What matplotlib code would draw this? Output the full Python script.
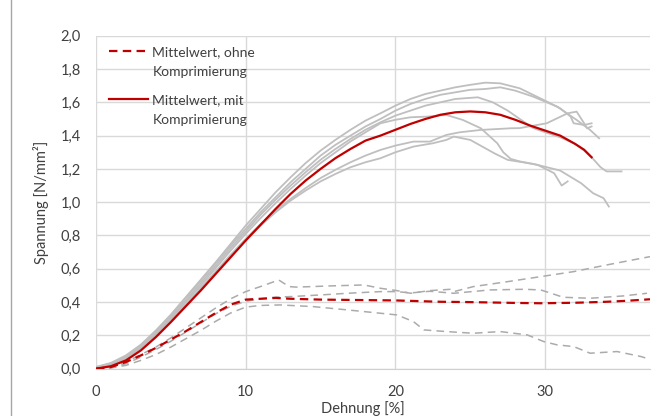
import numpy as np
import matplotlib.pyplot as plt
from matplotlib.patches import Rectangle
from matplotlib.legend_handler import HandlerLine2D

plt.rcParams['font.family'] = ['Lato', 'DejaVu Sans']

# Einzelversuche mit Komprimierung (grau, durchgezogen)
g1_x = [0, 1, 2, 3, 4, 5, 6, 7, 8, 9, 10, 11, 12, 13, 14, 15, 16, 17, 18, 19, 20, 21, 22, 23, 24, 25, 26, 27, 28.3, 29.9, 31, 31.7, 31.9, 32.6, 33.1]
g1_y = [0.01, 0.035, 0.08, 0.145, 0.23, 0.325, 0.43, 0.535, 0.64, 0.75, 0.86, 0.96, 1.06, 1.15, 1.235, 1.31, 1.375, 1.435, 1.49, 1.534, 1.58, 1.62, 1.65, 1.67, 1.69, 1.705, 1.718, 1.714, 1.684, 1.614, 1.564, 1.514, 1.474, 1.464, 1.474]
g2_x = [0, 1, 2, 3, 4, 5, 6, 7, 8, 9, 10, 11, 12, 13, 14, 15, 16, 17, 18, 19, 20, 21, 22, 23, 24, 25, 26, 27, 28, 29.2, 30.8, 32.1, 33, 33.6]
g2_y = [0.005, 0.03, 0.075, 0.14, 0.225, 0.32, 0.425, 0.53, 0.635, 0.74, 0.84, 0.94, 1.03, 1.12, 1.2, 1.28, 1.345, 1.4, 1.455, 1.5, 1.55, 1.59, 1.62, 1.645, 1.66, 1.675, 1.68, 1.69, 1.67, 1.634, 1.574, 1.494, 1.434, 1.384]
g3_x = [0, 1, 2, 3, 4, 5, 6, 7, 8, 9, 10, 11, 12, 13, 14, 15, 16, 17, 18, 19, 20, 22, 24, 25.5, 26.5, 27.5, 28.3, 29.2, 30, 31, 32, 32.6, 33.2, 33.7, 34.1, 35.1]
g3_y = [0.005, 0.025, 0.07, 0.135, 0.215, 0.31, 0.41, 0.515, 0.62, 0.725, 0.825, 0.925, 1.015, 1.1, 1.18, 1.255, 1.32, 1.38, 1.435, 1.48, 1.52, 1.58, 1.62, 1.63, 1.6, 1.55, 1.5, 1.445, 1.42, 1.39, 1.35, 1.31, 1.26, 1.21, 1.185, 1.185]
g4_x = [0, 1, 2, 3, 4, 5, 6, 7, 8, 9, 10, 11, 12, 13, 14, 15, 16, 17, 18, 19, 20, 21.2, 22.3, 23.4, 24.3, 25.7, 27.7, 28.3, 30.1, 31.5, 32.1, 32.6, 32.8, 33.1]
g4_y = [0.005, 0.025, 0.065, 0.125, 0.2, 0.29, 0.385, 0.485, 0.585, 0.685, 0.78, 0.87, 0.95, 1.02, 1.085, 1.145, 1.195, 1.24, 1.28, 1.314, 1.34, 1.364, 1.364, 1.404, 1.42, 1.434, 1.444, 1.445, 1.474, 1.534, 1.544, 1.474, 1.444, 1.455]
g5_x = [0, 1, 2, 3, 4, 5, 6, 7, 8, 9, 10, 11, 12, 13, 14, 15, 16, 17, 18, 19, 20, 21, 22.1, 23.4, 24.5, 25.7, 26.8, 27.2, 27.7, 28.3, 29.2, 29.9, 31, 32.4, 33.2, 33.9, 34.25]
g5_y = [0.01, 0.03, 0.07, 0.13, 0.21, 0.3, 0.4, 0.5, 0.605, 0.71, 0.81, 0.905, 0.995, 1.08, 1.16, 1.235, 1.3, 1.365, 1.42, 1.474, 1.495, 1.51, 1.514, 1.524, 1.494, 1.444, 1.354, 1.3, 1.26, 1.245, 1.23, 1.215, 1.19, 1.114, 1.054, 1.024, 0.974]
g6_x = [0, 1, 2, 3, 4, 5, 6, 7, 8, 9, 10, 11, 12, 13, 14, 15, 16, 17, 18, 19, 20, 21.2, 22.5, 23.4, 23.9, 25, 26.6, 27.5, 28.5, 29.5, 30.6, 31.1, 31.5]
g6_y = [0.005, 0.02, 0.06, 0.12, 0.195, 0.285, 0.38, 0.48, 0.58, 0.68, 0.775, 0.86, 0.94, 1.01, 1.07, 1.125, 1.17, 1.21, 1.24, 1.264, 1.3, 1.334, 1.354, 1.374, 1.394, 1.374, 1.294, 1.254, 1.24, 1.224, 1.174, 1.1, 1.125]

# Mittelwert mit Komprimierung
mit_x = [0, 1, 2, 3, 4, 5, 6, 7, 8, 9, 10, 11, 12, 13, 14, 15, 16, 17, 18, 19, 20, 21, 22, 23, 24, 25, 26, 27, 28, 29, 30, 31, 32, 32.6, 33.1]
mit_y = [0, 0.015, 0.05, 0.11, 0.19, 0.28, 0.375, 0.47, 0.57, 0.67, 0.77, 0.865, 0.96, 1.05, 1.13, 1.2, 1.265, 1.32, 1.37, 1.4, 1.435, 1.47, 1.5, 1.525, 1.54, 1.545, 1.54, 1.525, 1.495, 1.46, 1.43, 1.4, 1.35, 1.315, 1.27]

# Einzelversuche ohne Komprimierung (grau, gestrichelt)
d1_x = [0, 1, 2, 3, 4, 5, 6, 7, 8, 9, 10, 11.2, 12.2, 12.9, 13.4, 15.6, 17.9, 19, 20.1, 21, 22.3, 23.7, 23.9, 25.2, 27.5, 29.7, 31.9, 34.1, 37]
d1_y = [0, 0.01, 0.04, 0.085, 0.13, 0.185, 0.245, 0.305, 0.365, 0.42, 0.463, 0.5, 0.533, 0.493, 0.49, 0.497, 0.503, 0.483, 0.469, 0.453, 0.469, 0.477, 0.463, 0.493, 0.523, 0.553, 0.583, 0.623, 0.673]
d2_x = [0, 1, 2, 3, 4, 5, 6, 7, 8, 9, 10, 11, 12, 13, 15, 16.8, 19, 20.1, 21, 22.3, 23.9, 26.3, 28.6, 29.7, 30.4, 31.2, 33, 35.2, 36.8]
d2_y = [0, 0.005, 0.03, 0.07, 0.115, 0.165, 0.22, 0.275, 0.33, 0.375, 0.405, 0.42, 0.43, 0.433, 0.443, 0.453, 0.463, 0.463, 0.455, 0.465, 0.453, 0.473, 0.477, 0.473, 0.453, 0.429, 0.423, 0.437, 0.453]
d3_x = [0, 1, 2, 3, 4, 5, 6, 7, 8, 9, 10, 11, 12.3, 14.5, 16.8, 19, 20.1, 21.2, 21.9, 23.4, 25.2, 27, 28.8, 29.9, 30.8, 31.9, 33, 34.8, 36.4, 37]
d3_y = [0, 0.005, 0.02, 0.05, 0.085, 0.13, 0.18, 0.23, 0.285, 0.335, 0.37, 0.38, 0.383, 0.373, 0.353, 0.333, 0.323, 0.283, 0.233, 0.223, 0.213, 0.223, 0.203, 0.163, 0.143, 0.133, 0.093, 0.103, 0.073, 0.056]

# Mittelwert ohne Komprimierung
ohne_x = [0, 1, 2, 3, 4, 5, 6, 7, 8, 9, 10, 11, 12, 13, 15, 20, 23, 25, 28, 29.7, 32, 34.1, 35.5, 37]
ohne_y = [0, 0.01, 0.04, 0.08, 0.125, 0.175, 0.225, 0.28, 0.335, 0.385, 0.415, 0.42, 0.425, 0.42, 0.415, 0.41, 0.402, 0.4, 0.395, 0.393, 0.396, 0.402, 0.408, 0.417]

y_ticks = [0, 0.2, 0.4, 0.6, 0.8, 1.0, 1.2, 1.4, 1.6, 1.8, 2.0]
y_labels = ['0,0', '0,2', '0,4', '0,6', '0,8', '1,0', '1,2', '1,4', '1,6', '1,8', '2,0']
x_ticks = [0, 10, 20, 30]
x_labels = ['0', '10', '20', '30']

red = '#C00000'
grey = '#BFBFBF'
txt = '#404040'


class FirstLineHandler(HandlerLine2D):
    # Excel setzt das Symbol auf Hoehe der ersten Textzeile
    def create_artists(self, legend, orig_handle, xdescent, ydescent, width, height, fontsize, trans):
        artists = super().create_artists(legend, orig_handle, xdescent, ydescent, width, height, fontsize, trans)
        for a in artists:
            a.set_ydata(np.asarray(a.get_ydata()) + 0.8 * fontsize)
        return artists


fig = plt.figure(figsize=(6.62, 4.16), dpi=100)
ax = fig.add_axes([96 / 662, 1 - 368.7 / 416, 554 / 662, 333 / 416])

for gx, gy in [(g1_x, g1_y), (g2_x, g2_y), (g3_x, g3_y), (g4_x, g4_y), (g5_x, g5_y), (g6_x, g6_y)]:
    ax.plot(gx, gy, color=grey, lw=1.3, zorder=2)
for dx, dy in [(d1_x, d1_y), (d2_x, d2_y), (d3_x, d3_y)]:
    ax.plot(dx, dy, color='#ABABAB', lw=1.1, linestyle=(0, (5, 3.4)), zorder=2)

l_ohne, = ax.plot(ohne_x, ohne_y, color=red, lw=1.6, linestyle=(0, (3.8, 2.4)), zorder=3)
l_mit, = ax.plot(mit_x, mit_y, color=red, lw=1.6, zorder=3)

ax.set_xlim(0, 37)
ax.set_ylim(0, 2.0)
ax.set_yticks(y_ticks)
ax.set_yticklabels(y_labels)
ax.set_xticks(x_ticks)
ax.set_xticklabels(x_labels)
ax.tick_params(length=0, labelsize=10.5, colors=txt)
ax.tick_params(axis='y', pad=11)
ax.tick_params(axis='x', pad=12)
ax.grid(True, color='#D9D9D9', lw=1)
ax.set_axisbelow(True)
for s in ['top', 'right', 'left']:
    ax.spines[s].set_visible(False)
ax.spines['bottom'].set_color('#D0D0D0')

ax.set_ylabel('Spannung [N/mm²]', fontsize=10.5, color=txt, labelpad=8)
fig.text(363 / 662, 1 - 401 / 416, 'Dehnung [%]', fontsize=10.5, color=txt, ha='center', va='top')

leg = ax.legend([l_ohne, l_mit], ['Mittelwert, ohne\nKomprimierung', 'Mittelwert, mit\nKomprimierung'],
                loc='upper left', bbox_to_anchor=(0.014, 0.985), frameon=False, fontsize=10,
                handlelength=2.8, handletextpad=0.3, labelspacing=1.2, borderaxespad=0,
                handler_map={plt.Line2D: FirstLineHandler()})
for t in leg.get_texts():
    t.set_linespacing(1.75)
    t.set_color(txt)

fig.add_artist(Rectangle((11 / 662, -0.2), 1.2, 1.2 + (1 - 9 / 416), transform=fig.transFigure,
                         fill=False, edgecolor='#A6A6A6', lw=1, clip_on=False))

fig.savefig('out.png', dpi=100)
